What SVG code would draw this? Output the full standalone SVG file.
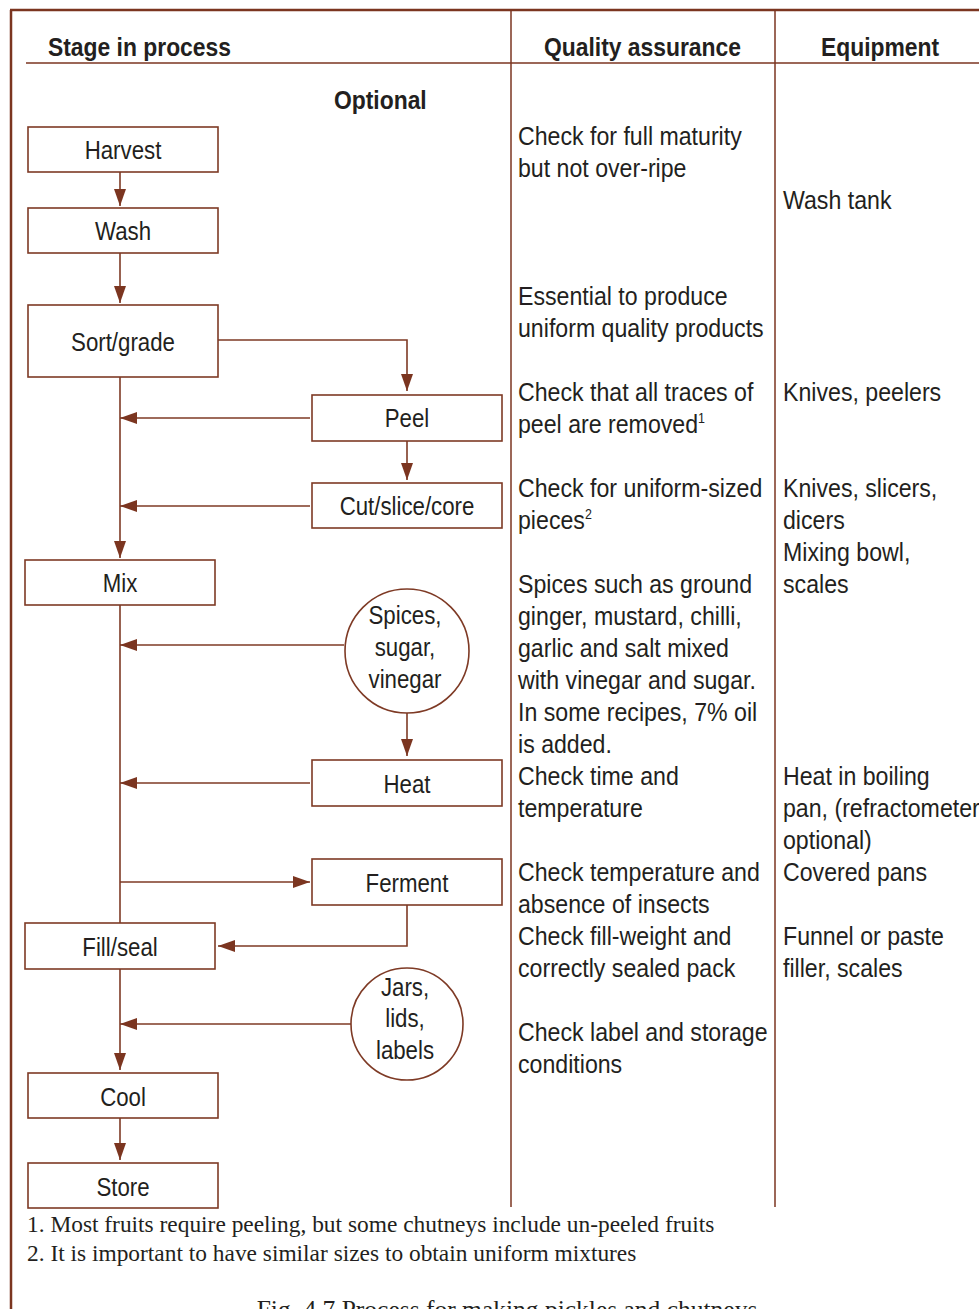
<svg xmlns="http://www.w3.org/2000/svg" width="979" height="1309" viewBox="0 0 979 1309">
<defs>
<style>
.frame{stroke:#7b3520;stroke-width:2.5;fill:none}
.rule{stroke:#7b3520;stroke-width:1.5;fill:none}
.box{stroke:#7e3a25;stroke-width:1.6;fill:#fff}
.con{stroke:#7e3a25;stroke-width:1.6;fill:none}
.t{font-family:"Liberation Sans",Arial,sans-serif;font-size:26px;fill:#231f20}
.lbl{font-family:"Liberation Sans",Arial,sans-serif;font-size:25px;fill:#231f20;text-anchor:middle}
.h{font-family:"Liberation Sans",Arial,sans-serif;font-size:26px;font-weight:bold;fill:#231f20}
.fn{font-family:"Liberation Serif",serif;font-size:23.4px;fill:#231f20}
.cap{font-family:"Liberation Serif",serif;font-size:25.5px;fill:#231f20;text-anchor:middle}
.sup{font-size:14px}
</style>
<marker id="ah" viewBox="0 0 17 12" refX="17" refY="6" markerWidth="17" markerHeight="12" markerUnits="userSpaceOnUse" orient="auto">
<path d="M0,0 L17,6 L0,12 Z" fill="#7b3520"/>
</marker>
</defs>
<rect width="979" height="1309" fill="#fff"/>
<g id="table">
<line class="frame" x1="10" y1="10" x2="979" y2="10"/>
<line class="frame" x1="11" y1="10" x2="11" y2="1309"/>
<line class="rule" x1="26" y1="63" x2="979" y2="63"/>
<line class="rule" x1="511" y1="10" x2="511" y2="1207"/>
<line class="rule" x1="775" y1="10" x2="775" y2="1207"/>
<text class="h" transform="translate(48 0) scale(0.88 1)" x="0" y="56">Stage in process</text>
<text class="h" transform="translate(544 0) scale(0.88 1)" x="0" y="56">Quality assurance</text>
<text class="h" transform="translate(821 0) scale(0.88 1)" x="0" y="56">Equipment</text>
<text class="h" transform="translate(334 0) scale(0.88 1)" x="0" y="109">Optional</text>
</g>
<g id="connectors">
<line class="con" x1="120" y1="172" x2="120" y2="206" marker-end="url(#ah)"/>
<line class="con" x1="120" y1="253" x2="120" y2="303" marker-end="url(#ah)"/>
<polyline class="con" points="218,340 407,340 407,391" marker-end="url(#ah)"/>
<line class="con" x1="310" y1="418" x2="120" y2="418" marker-end="url(#ah)"/>
<line class="con" x1="407" y1="441" x2="407" y2="480" marker-end="url(#ah)"/>
<line class="con" x1="310" y1="506" x2="120" y2="506" marker-end="url(#ah)"/>
<line class="con" x1="120" y1="377" x2="120" y2="558" marker-end="url(#ah)"/>
<line class="con" x1="120" y1="605" x2="120" y2="923"/>
<line class="con" x1="344" y1="645" x2="120" y2="645" marker-end="url(#ah)"/>
<line class="con" x1="407" y1="712" x2="407" y2="756" marker-end="url(#ah)"/>
<line class="con" x1="310" y1="783" x2="120" y2="783" marker-end="url(#ah)"/>
<line class="con" x1="120" y1="882" x2="310" y2="882" marker-end="url(#ah)"/>
<polyline class="con" points="407,905 407,946 218,946" marker-end="url(#ah)"/>
<line class="con" x1="351" y1="1024" x2="120" y2="1024" marker-end="url(#ah)"/>
<line class="con" x1="120" y1="969" x2="120" y2="1070" marker-end="url(#ah)"/>
<line class="con" x1="120" y1="1118" x2="120" y2="1160" marker-end="url(#ah)"/>
</g>
<g id="harvest"><rect class="box" x="28" y="127" width="190" height="45"/><text class="lbl" transform="translate(123 0) scale(0.89 1)" x="0" y="159">Harvest</text></g>
<g id="wash"><rect class="box" x="28" y="208" width="190" height="45"/><text class="lbl" transform="translate(123 0) scale(0.89 1)" x="0" y="240">Wash</text></g>
<g id="sortgrade"><rect class="box" x="28" y="305" width="190" height="72"/><text class="lbl" transform="translate(123 0) scale(0.89 1)" x="0" y="351">Sort/grade</text></g>
<g id="peel"><rect class="box" x="312" y="395" width="190" height="46"/><text class="lbl" transform="translate(407 0) scale(0.89 1)" x="0" y="427">Peel</text></g>
<g id="cut"><rect class="box" x="312" y="483" width="190" height="45"/><text class="lbl" transform="translate(407 0) scale(0.89 1)" x="0" y="515">Cut/slice/core</text></g>
<g id="mix"><rect class="box" x="25" y="560" width="190" height="45"/><text class="lbl" transform="translate(120 0) scale(0.89 1)" x="0" y="592">Mix</text></g>
<g id="spices"><circle class="box" cx="407" cy="651" r="62"/>
<g transform="translate(405 0) scale(0.89 1)"><text class="lbl" x="0" y="624">Spices,</text><text class="lbl" x="0" y="656">sugar,</text><text class="lbl" x="0" y="688">vinegar</text></g></g>
<g id="heat"><rect class="box" x="312" y="760" width="190" height="46"/><text class="lbl" transform="translate(407 0) scale(0.89 1)" x="0" y="793">Heat</text></g>
<g id="ferment"><rect class="box" x="312" y="859" width="190" height="46"/><text class="lbl" transform="translate(407 0) scale(0.89 1)" x="0" y="892">Ferment</text></g>
<g id="fillseal"><rect class="box" x="25" y="923" width="190" height="46"/><text class="lbl" transform="translate(120 0) scale(0.89 1)" x="0" y="956">Fill/seal</text></g>
<g id="jars"><circle class="box" cx="407" cy="1024" r="56"/>
<g transform="translate(405 0) scale(0.89 1)"><text class="lbl" x="0" y="996">Jars,</text><text class="lbl" x="0" y="1027">lids,</text><text class="lbl" x="0" y="1059">labels</text></g></g>
<g id="cool"><rect class="box" x="28" y="1073" width="190" height="45"/><text class="lbl" transform="translate(123 0) scale(0.89 1)" x="0" y="1106">Cool</text></g>
<g id="store"><rect class="box" x="28" y="1163" width="190" height="45"/><text class="lbl" transform="translate(123 0) scale(0.89 1)" x="0" y="1196">Store</text></g>
<g id="qa" transform="translate(518 0) scale(0.89 1)">
<text class="t" x="0" y="145">Check for full maturity</text>
<text class="t" x="0" y="177">but not over-ripe</text>
<text class="t" x="0" y="305">Essential to produce</text>
<text class="t" x="0" y="337">uniform quality products</text>
<text class="t" x="0" y="401">Check that all traces of</text>
<text class="t" x="0" y="433">peel are removed<tspan class="sup" dy="-10">1</tspan></text>
<text class="t" x="0" y="497">Check for uniform-sized</text>
<text class="t" x="0" y="529">pieces<tspan class="sup" dy="-10">2</tspan></text>
<text class="t" x="0" y="593">Spices such as ground</text>
<text class="t" x="0" y="625">ginger, mustard, chilli,</text>
<text class="t" x="0" y="657">garlic and salt mixed</text>
<text class="t" x="0" y="689">with vinegar and sugar.</text>
<text class="t" x="0" y="721">In some recipes, 7% oil</text>
<text class="t" x="0" y="753">is added.</text>
<text class="t" x="0" y="785">Check time and</text>
<text class="t" x="0" y="817">temperature</text>
<text class="t" x="0" y="881">Check temperature and</text>
<text class="t" x="0" y="913">absence of insects</text>
<text class="t" x="0" y="945">Check fill-weight and</text>
<text class="t" x="0" y="977">correctly sealed pack</text>
<text class="t" x="0" y="1041">Check label and storage</text>
<text class="t" x="0" y="1073">conditions</text>
</g>
<g id="equipment" transform="translate(783 0) scale(0.89 1)">
<text class="t" x="0" y="209">Wash tank</text>
<text class="t" x="0" y="401">Knives, peelers</text>
<text class="t" x="0" y="497">Knives, slicers,</text>
<text class="t" x="0" y="529">dicers</text>
<text class="t" x="0" y="561">Mixing bowl,</text>
<text class="t" x="0" y="593">scales</text>
<text class="t" x="0" y="785">Heat in boiling</text>
<text class="t" x="0" y="817">pan, (refractometer</text>
<text class="t" x="0" y="849">optional)</text>
<text class="t" x="0" y="881">Covered pans</text>
<text class="t" x="0" y="945">Funnel or paste</text>
<text class="t" x="0" y="977">filler, scales</text>
</g>
<g id="notes">
<text class="fn" x="27" y="1232">1.  Most fruits require peeling, but some chutneys include un-peeled fruits</text>
<text class="fn" x="27" y="1261">2.  It is important to have similar sizes to obtain uniform mixtures</text>
<text class="cap" x="507" y="1318">Fig. 4.7  Process for making pickles and chutneys</text>
</g>
</svg>
